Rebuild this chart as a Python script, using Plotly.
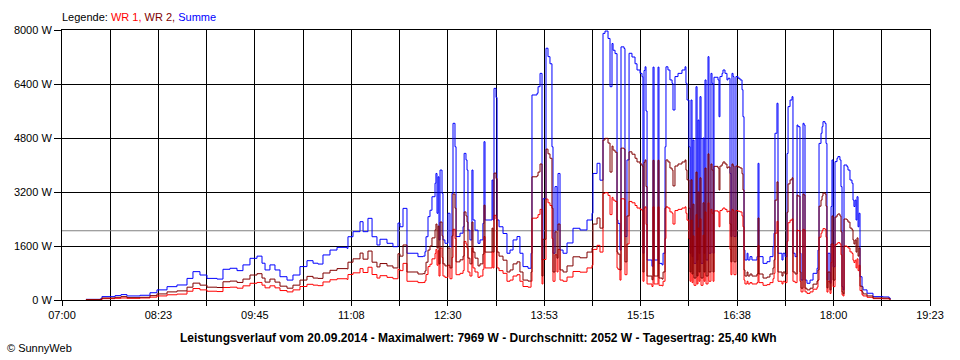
import plotly.graph_objects as go

# ---- data (time = minutes after midnight, power in W) ----
minute_of_day = [
    440.5, 452.5, 454.2, 465.4, 470.5, 475.6, 486.8, 495.3, 501.3, 509.9,
    518.4, 527.0, 532.1, 538.1, 544.1, 552.7, 557.8, 563.8, 569.8, 574.9,
    580.9, 586.9, 591.2, 593.8, 598.0, 602.3, 606.6, 612.6, 617.7, 623.7,
    629.7, 634.9, 639.1, 643.4, 649.4, 655.4, 664.0, 664.8, 669.1, 675.1,
    677.7, 681.9, 685.4, 689.6, 692.2, 698.2, 703.3, 707.6, 709.3, 711.9,
    715.3, 722.2, 724.7, 729.0, 730.7, 731.6, 733.3, 735.0, 736.7, 739.3,
    740.1, 741.0, 741.9, 742.7, 743.6, 745.3, 746.1, 747.8, 750.4, 752.1,
    753.8, 754.7, 756.4, 757.3, 760.7, 763.3, 764.2, 765.8, 766.7, 767.5,
    769.2, 770.9, 771.8, 773.5, 776.1, 777.8, 780.3, 781.2, 782.1, 786.4,
    788.1, 788.9, 789.8, 791.5, 792.4, 794.1, 797.5, 800.9, 803.5, 806.1,
    809.5, 812.0, 814.6, 818.9, 821.5, 822.3, 826.6, 827.5, 829.2, 830.9,
    831.7, 834.3, 836.0, 837.7, 839.4, 840.3, 842.0, 843.7, 844.6, 846.3,
    848.9, 852.3, 857.4, 863.4, 869.4, 873.7, 874.5, 878.0, 880.5, 883.1,
    884.8, 887.4, 889.1, 890.8, 891.7, 893.4, 895.1, 895.9, 897.6, 898.5,
    901.1, 901.9, 903.6, 905.4, 907.9, 910.5, 912.2, 914.8, 916.5, 917.3,
    918.2, 919.1, 919.9, 920.8, 924.2, 925.0, 925.9, 926.8, 929.3, 930.2,
    931.0, 933.6, 934.5, 936.2, 937.0, 938.7, 940.4, 942.2, 943.0, 944.7,
    947.3, 950.7, 953.3, 954.1, 955.0, 956.7, 957.6, 958.4, 959.3, 960.1,
    961.0, 962.7, 963.6, 964.4, 965.3, 966.1, 967.0, 968.7, 969.6, 970.4,
    971.3, 973.0, 973.8, 975.5, 976.4, 977.3, 978.1, 981.5, 982.4, 983.2,
    985.0, 985.8, 987.5, 989.2, 990.1, 991.8, 992.6, 993.5, 994.4, 995.2,
    996.9, 998.7, 1000.4, 1002.1, 1002.9, 1003.8, 1004.6, 1006.4, 1007.2, 1008.9,
    1010.6, 1014.9, 1015.8, 1016.6, 1020.1, 1023.5, 1026.0, 1028.6, 1029.5, 1030.3,
    1032.0, 1032.9, 1036.3, 1037.2, 1038.9, 1040.6, 1041.5, 1043.2, 1044.9, 1045.7,
    1047.5, 1049.2, 1050.0, 1051.7, 1052.6, 1054.3, 1055.2, 1056.0, 1057.7, 1060.3,
    1062.9, 1066.3, 1067.1, 1068.0, 1069.7, 1070.6, 1071.4, 1073.1, 1074.0, 1074.8,
    1075.7, 1077.4, 1078.3, 1079.1, 1080.0, 1081.7, 1083.4, 1084.2, 1085.9, 1086.8,
    1087.7, 1088.5, 1089.4, 1091.9, 1092.8, 1094.5, 1096.2, 1097.1, 1097.9, 1098.8,
    1099.7, 1100.5, 1101.4, 1102.2, 1103.1, 1104.8, 1105.7, 1109.1, 1114.2, 1122.8,
    1128.0, 1128.9,
]

summe = [
    20, 30, 100, 130, 160, 120, 140, 215, 300, 395,
    445, 640, 840, 740, 640, 620, 910, 940, 870, 1040,
    1235, 1300, 1090, 890, 1040, 890, 690, 590, 740, 990,
    1165, 1090, 1065, 1335, 1480, 1560, 1530, 1875, 2025, 2320,
    2025, 2420, 1875, 1630, 1800, 1680, 1580, 2280, 2170, 2715,
    1385, 1385, 1285, 1300, 1430, 1875, 2470, 2660, 3060, 3460,
    3750, 2570, 3650, 1780, 3850, 3160, 1780, 1680, 2570, 1580,
    3160, 5235, 4540, 1880, 1980, 2170, 4345, 4150, 3850, 2070,
    1780, 3850, 2370, 2070, 1680, 1780, 2270, 4690, 2370, 2370,
    3555, 2370, 6270, 6000, 2370, 2170, 1970, 1385, 1480, 1780,
    1880, 1385, 990, 940, 1385, 6075, 6125, 6320, 6715, 1185,
    3000, 7460, 7210, 7000, 4540, 1385, 3360, 2070, 3750, 1480,
    1385, 1690, 2125, 2075, 2370, 2570, 3750, 4050, 3550, 7900,
    7969, 7750, 6320, 7600, 7400, 7300, 2370, 2270, 1480, 7500,
    7450, 1880, 4150, 7310, 7200, 7000, 6815, 6715, 6615, 1385,
    6800, 6910, 5600, 1185, 1185, 1000, 6900, 1185, 1185, 6900,
    1085, 1040, 1385, 4540, 6910, 6815, 6520, 6420, 5630, 6620,
    6715, 6815, 6910, 6420, 5925, 4540, 1385, 5925, 1285, 4740,
    1085, 6320, 1185, 5330, 1385, 6025, 1085, 4800, 1385, 6520,
    1185, 7210, 1385, 6715, 6420, 1385, 6600, 6520, 5430, 6620,
    6715, 6815, 6715, 6520, 6570, 3750, 1880, 6715, 6620, 1880,
    6620, 6570, 6520, 6230, 5430, 1480, 1185, 1385, 1185, 1285,
    1185, 1285, 4050, 1285, 1085, 1135, 1285, 1580, 1980, 4940,
    5830, 1385, 1185, 1385, 1285, 4340, 5730, 5925, 6025, 1385,
    1285, 5185, 5135, 1385, 590, 5235, 5185, 590, 495, 590,
    790, 940, 1480, 4640, 4940, 5135, 5285, 5235, 4640, 595,
    1385, 495, 2770, 4150, 985, 4100, 4200, 4250, 4150, 3360,
    395, 300, 4000, 3950, 3850, 3555, 3460, 2960, 2770, 2960,
    2370, 3060, 2170, 2570, 690, 395, 300, 200, 100, 90,
    60, 20,
]

wr2 = [
    10, 20, 60, 80, 100, 70, 80, 130, 180, 240,
    270, 380, 500, 440, 380, 370, 540, 560, 520, 620,
    740, 780, 650, 530, 620, 530, 410, 350, 440, 590,
    700, 650, 640, 800, 880, 930, 920, 1120, 1220, 1390,
    1210, 1450, 1120, 980, 1080, 1010, 950, 1370, 1300, 1630,
    830, 830, 770, 780, 860, 1120, 1480, 1600, 1840, 2080,
    2250, 1540, 2190, 1070, 2310, 1900, 1070, 1010, 1540, 950,
    1900, 3140, 2720, 1130, 1190, 1300, 2610, 2490, 2310, 1240,
    1070, 2310, 1420, 1240, 1010, 1070, 1360, 2810, 1420, 1420,
    2130, 1420, 3760, 3600, 1420, 1300, 1180, 830, 890, 1070,
    1130, 830, 590, 560, 830, 3650, 3680, 3790, 4030, 710,
    1800, 4470, 4330, 4200, 2720, 830, 2020, 1240, 2250, 890,
    830, 1010, 1280, 1250, 1420, 1540, 2250, 2430, 2130, 4740,
    4790, 4650, 3790, 4560, 4440, 4380, 1420, 1360, 890, 4500,
    4470, 1130, 2490, 4390, 4320, 4200, 4090, 4030, 3970, 830,
    4080, 4150, 3360, 710, 710, 600, 4140, 710, 710, 4140,
    650, 620, 830, 2720, 4150, 4090, 3910, 3850, 3380, 3970,
    4030, 4090, 4150, 3850, 3560, 2720, 830, 3560, 770, 2840,
    650, 3790, 710, 3200, 830, 3620, 650, 2880, 830, 3910,
    710, 4330, 830, 4030, 3850, 830, 3960, 3910, 3260, 3970,
    4030, 4090, 4030, 3910, 3940, 2250, 1130, 4030, 3970, 1130,
    3970, 3940, 3910, 3740, 3260, 890, 710, 830, 710, 770,
    710, 770, 2430, 770, 650, 680, 770, 950, 1190, 2960,
    3500, 830, 710, 830, 770, 2600, 3440, 3560, 3620, 830,
    770, 3110, 3080, 830, 350, 3140, 3110, 350, 300, 350,
    470, 560, 890, 2780, 2960, 3080, 3170, 3140, 2780, 360,
    830, 300, 1660, 2490, 590, 2460, 2520, 2550, 2490, 2020,
    240, 180, 2400, 2370, 2310, 2130, 2080, 1780, 1660, 1780,
    1420, 1840, 1300, 1540, 410, 240, 180, 120, 60, 55,
    35, 10,
]

wr1 = [
    10, 10, 40, 50, 60, 50, 60, 85, 120, 155,
    175, 260, 340, 300, 260, 250, 370, 380, 350, 420,
    495, 520, 440, 360, 420, 360, 280, 240, 300, 400,
    465, 440, 425, 535, 600, 630, 610, 755, 805, 930,
    815, 970, 755, 650, 720, 670, 630, 910, 870, 1085,
    555, 555, 515, 520, 570, 755, 990, 1060, 1220, 1380,
    1500, 1030, 1460, 710, 1540, 1260, 710, 670, 1030, 630,
    1260, 2095, 1820, 750, 790, 870, 1735, 1660, 1540, 830,
    710, 1540, 950, 830, 670, 710, 910, 1880, 950, 950,
    1425, 950, 2510, 2400, 950, 870, 790, 555, 590, 710,
    750, 555, 400, 380, 555, 2425, 2445, 2530, 2685, 475,
    1200, 2990, 2880, 2800, 1820, 555, 1340, 830, 1500, 590,
    555, 680, 845, 825, 950, 1030, 1500, 1620, 1420, 3160,
    3179, 3100, 2530, 3040, 2960, 2920, 950, 910, 590, 3000,
    2980, 750, 1660, 2920, 2880, 2800, 2725, 2685, 2645, 555,
    2720, 2760, 2240, 475, 475, 400, 2760, 475, 475, 2760,
    435, 420, 555, 1820, 2760, 2725, 2610, 2570, 2250, 2650,
    2685, 2725, 2760, 2570, 2365, 1820, 555, 2365, 515, 1900,
    435, 2530, 475, 2130, 555, 2405, 435, 1920, 555, 2610,
    475, 2880, 555, 2685, 2570, 555, 2640, 2610, 2170, 2650,
    2685, 2725, 2685, 2610, 2630, 1500, 750, 2685, 2650, 750,
    2650, 2630, 2610, 2490, 2170, 590, 475, 555, 475, 515,
    475, 515, 1620, 515, 435, 455, 515, 630, 790, 1980,
    2330, 555, 475, 555, 515, 1740, 2290, 2365, 2405, 555,
    515, 2075, 2055, 555, 240, 2095, 2075, 240, 195, 240,
    320, 380, 590, 1860, 1980, 2055, 2115, 2095, 1860, 235,
    555, 195, 1110, 1660, 395, 1640, 1680, 1700, 1660, 1340,
    155, 120, 1600, 1580, 1540, 1425, 1380, 1180, 1110, 1180,
    950, 1220, 870, 1030, 280, 155, 120, 80, 40, 35,
    25, 10,
]

average_w = 2052
axis_start_min = 420     # 07:00
axis_end_min = 1163      # 19:23
x_tick_labels = ["07:00", "08:23", "09:45", "11:08", "12:30",
                 "13:53", "15:15", "16:38", "18:00", "19:23"]
y_tick_values = [0, 1600, 3200, 4800, 6400, 8000]
y_tick_labels = [f"{v} W" for v in y_tick_values]

title_text = ("Leistungsverlauf vom 20.09.2014 - Maximalwert: 7969 W - "
              "Durchschnitt: 2052 W - Tagesertrag: 25,40 kWh")

# ---- figure ----
FONT = "Liberation Sans, Arial, sans-serif"
n_steps = 18
step = (axis_end_min - axis_start_min) / n_steps
x_tick_vals = [axis_start_min + k * step for k in range(n_steps + 1)]
x_tick_text = [x_tick_labels[k // 2] if k % 2 == 0 else "" for k in range(n_steps + 1)]

fig = go.Figure()
fig.add_trace(go.Scatter(x=[axis_start_min, axis_end_min], y=[average_w, average_w],
                         mode="lines", line=dict(color="#808080", width=1),
                         hoverinfo="skip", showlegend=False))
fig.add_trace(go.Scatter(x=minute_of_day, y=summe, mode="lines", name="Summe",
                         line=dict(color="#0000FF", width=1, shape="hv")))
fig.add_trace(go.Scatter(x=minute_of_day, y=wr1, mode="lines", name="WR 1",
                         line=dict(color="#FF0000", width=1, shape="hv")))
fig.add_trace(go.Scatter(x=minute_of_day, y=wr2, mode="lines", name="WR 2",
                         line=dict(color="#800000", width=1, shape="hv")))

axis_common = dict(showgrid=True, gridcolor="black", gridwidth=1, zeroline=False,
                   showline=True, linecolor="black", linewidth=1, mirror=True,
                   ticks="outside", tickcolor="black", tickwidth=1,
                   tickfont=dict(family=FONT, size=11, color="black"))

fig.update_layout(
    width=960, height=360,
    margin=dict(l=62, r=30, t=30, b=60),
    paper_bgcolor="white", plot_bgcolor="white",
    showlegend=False,
    font=dict(family=FONT, size=11, color="black"),
    xaxis=dict(range=[axis_start_min, axis_end_min], tickmode="array",
               tickvals=x_tick_vals, ticktext=x_tick_text, ticklen=5, **axis_common),
    yaxis=dict(range=[0, 8000], tickmode="array", tickvals=y_tick_values,
               ticktext=y_tick_labels, ticklen=7, **axis_common),
    annotations=[
        dict(xref="paper", yref="paper", x=-0.0023, y=1.048, xanchor="left", yanchor="middle",
             showarrow=False, font=dict(family=FONT, size=11, color="black"),
             text="Legende: <span style='color:#FF0000'>WR 1,</span> "
                  "<span style='color:#800000'>WR 2,</span> "
                  "<span style='color:#0000FF'>Summe</span>"),
        dict(xref="paper", yref="paper", x=0.4804, y=-0.1407, xanchor="center", yanchor="middle",
             showarrow=False, font=dict(family=FONT, size=12, color="black"),
             text="<b>" + title_text + "</b>"),
        dict(xref="paper", yref="paper", x=-0.0657, y=-0.178, xanchor="left", yanchor="middle",
             showarrow=False, font=dict(family=FONT, size=11, color="black"),
             text="© SunnyWeb"),
    ],
)

post = "document.body.style.margin='0';"
fig.write_html("out.html", config={"displayModeBar": False}, post_script=post)
